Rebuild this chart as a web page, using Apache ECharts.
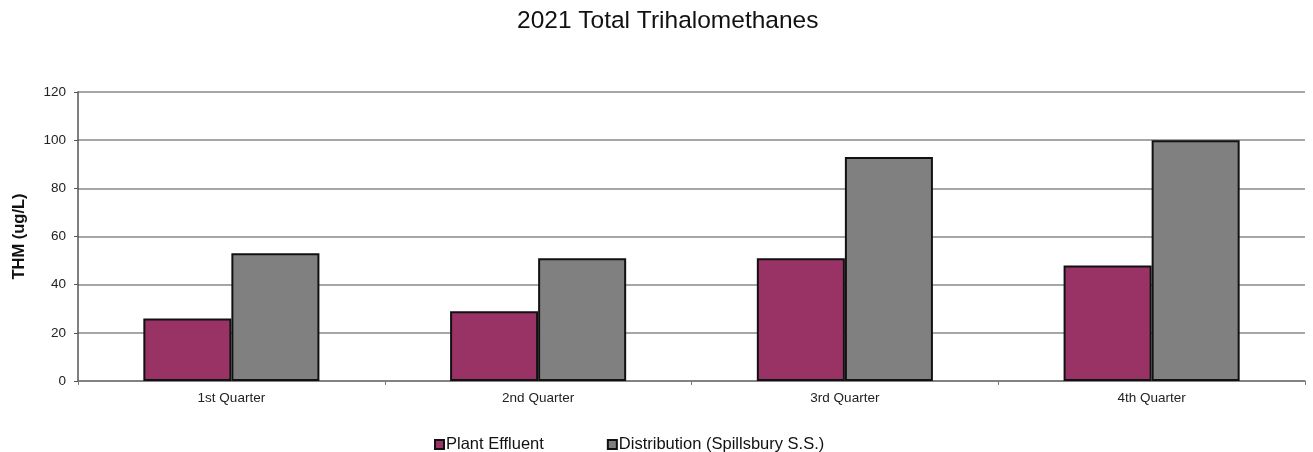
<!DOCTYPE html>
<html>
<head>
<meta charset="utf-8">
<script src="https://cdn.jsdelivr.net/npm/echarts@6/dist/echarts.min.js"></script>
<style>
  html, body { margin: 0; padding: 0; background: #fff; }
  #chart { width: 1313px; height: 452px; }
</style>
</head>
<body>
<div id="chart"></div>
<script>
var quarters = ['1st Quarter', '2nd Quarter', '3rd Quarter', '4th Quarter'];
var plantEffluent = [26, 29, 51, 48];
var distribution = [53, 51, 93, 100];

var chart = echarts.init(document.getElementById('chart'));
var font = 'Liberation Sans, Arial, sans-serif';

var option = {
    animation: false,
    title: {
        text: '2021 Total Trihalomethanes',
        left: 512,
        top: 4,
        textStyle: { fontFamily: font, fontSize: 24.5, fontWeight: 'normal', color: '#111' }
    },
    legend: {
        top: 431,
        left: 429,
        itemWidth: 9,
        itemHeight: 9,
        itemGap: 63,
        icon: 'rect',
        textStyle: { fontFamily: font, fontSize: 16.5, color: '#111', padding: [0, 0, 0, -3] },
        data: ['Plant Effluent', 'Distribution (Spillsbury S.S.)']
    },
    grid: { left: 78, right: 8, top: 92, bottom: 71, outerBoundsMode: 'none' },
    xAxis: {
        type: 'category',
        data: quarters,
        axisLine: { lineStyle: { color: '#777', width: 1.5 } },
        axisTick: { show: true, alignWithLabel: false, length: 4, lineStyle: { color: '#777' } },
        axisLabel: { fontFamily: font, fontSize: 13.5, color: '#222', margin: 10 }
    },
    yAxis: {
        type: 'value',
        min: 0,
        max: 120,
        interval: 20,
        name: 'THM (ug/L)',
        nameLocation: 'middle',
        nameGap: 50,
        nameTextStyle: { fontFamily: font, fontSize: 16.5, fontWeight: 'bold', color: '#111' },
        axisLine: { show: true, lineStyle: { color: '#555', width: 1.5 } },
        axisTick: { show: true, length: 4, lineStyle: { color: '#555' } },
        axisLabel: { fontFamily: font, fontSize: 13.5, color: '#222', margin: 12 },
        splitLine: { lineStyle: { color: '#888', width: 1.5 } }
    },
    series: [
        {
            name: 'Plant Effluent',
            type: 'bar',
            data: plantEffluent,
            barGap: '0%',
            barCategoryGap: '42.6%',
            itemStyle: { color: '#993366', borderColor: '#111', borderWidth: 2 }
        },
        {
            name: 'Distribution (Spillsbury S.S.)',
            type: 'bar',
            data: distribution,
            itemStyle: { color: '#808080', borderColor: '#111', borderWidth: 2 }
        }
    ]
};

chart.setOption(option);
</script>
</body>
</html>
